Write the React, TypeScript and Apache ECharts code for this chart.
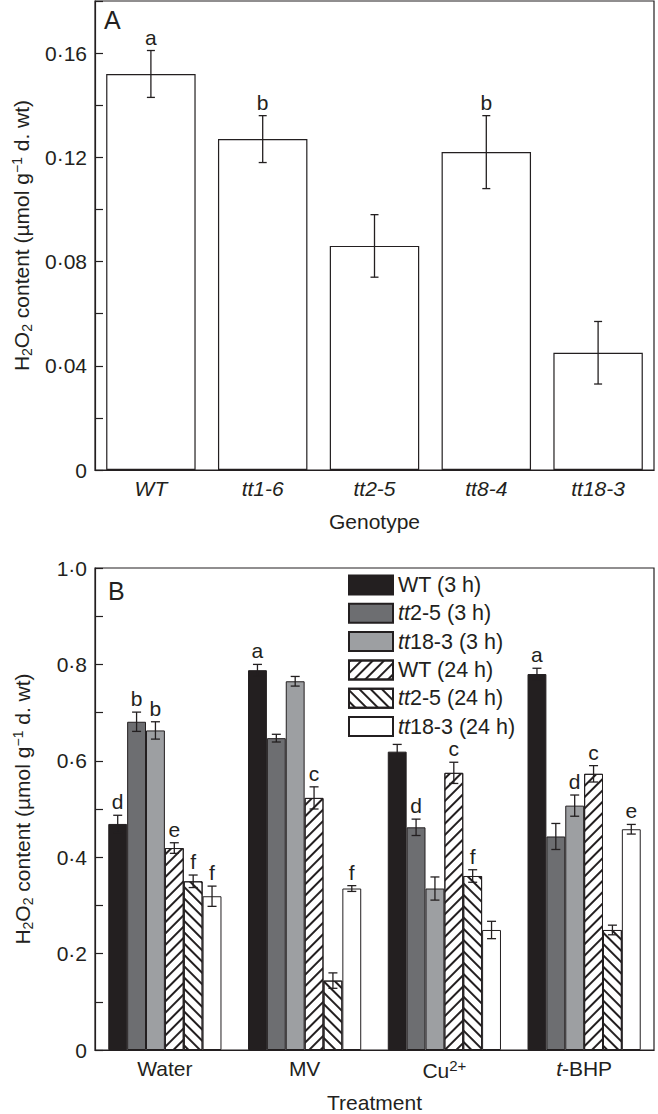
import React, { useEffect, useRef } from 'react';
import * as echarts from 'echarts';

// ---------- Panel A data ----------
const genotypes = ['WT', 'tt1-6', 'tt2-5', 'tt8-4', 'tt18-3'];
const genotypeValues = [0.152, 0.127, 0.086, 0.122, 0.045];
const genotypeErrors = [0.009, 0.009, 0.012, 0.014, 0.012];
const genotypeLetters = ['a', 'b', '', 'b', ''];

// ---------- Panel B data ----------
const treatments = ['Water', 'MV', 'Cu2+', 't-BHP'];
const seriesNames = ['WT (3 h)', 'tt2-5 (3 h)', 'tt18-3 (3 h)', 'WT (24 h)', 'tt2-5 (24 h)', 'tt18-3 (24 h)'];
const wt3h = [0.469, 0.788, 0.619, 0.780];
const tt25_3h = [0.681, 0.647, 0.462, 0.443];
const tt183_3h = [0.663, 0.765, 0.335, 0.507];
const wt24h = [0.419, 0.523, 0.575, 0.573];
const tt25_24h = [0.350, 0.144, 0.361, 0.249];
const tt183_24h = [0.319, 0.335, 0.249, 0.458];
const wt3hErr = [0.018, 0.012, 0.015, 0.012];
const tt25_3hErr = [0.020, 0.008, 0.017, 0.027];
const tt183_3hErr = [0.018, 0.010, 0.024, 0.022];
const wt24hErr = [0.011, 0.023, 0.022, 0.017];
const tt25_24hErr = [0.013, 0.016, 0.013, 0.010];
const tt183_24hErr = [0.021, 0.006, 0.018, 0.010];
const wt3hLetters = ['d', 'a', '', 'a'];
const tt25_3hLetters = ['b', '', 'd', ''];
const tt183_3hLetters = ['b', '', '', 'd'];
const wt24hLetters = ['e', 'c', 'c', 'c'];
const tt25_24hLetters = ['f', '', 'f', ''];
const tt183_24hLetters = ['f', 'f', '', 'e'];

const bValues = [wt3h, tt25_3h, tt183_3h, wt24h, tt25_24h, tt183_24h];
const bErrors = [wt3hErr, tt25_3hErr, tt183_3hErr, wt24hErr, tt25_24hErr, tt183_24hErr];
const bLetters = [wt3hLetters, tt25_3hLetters, tt183_3hLetters, wt24hLetters, tt25_24hLetters, tt183_24hLetters];

const FONT = '"Liberation Sans", Arial, Helvetica, sans-serif';
const INK = '#231f20';
const FS = 21;
const B_GAP = 0.19;

const fills = ['#231f20', '#6d6e71', '#9d9fa2', '#ffffff', '#ffffff', '#ffffff'];
const hatch = (rot: number) => ({
  symbol: 'rect',
  symbolSize: 1,
  dashArrayX: [1, 0],
  dashArrayY: [1.1, 5.4],
  rotation: rot,
  color: INK,
});
const decals: any[] = [undefined, undefined, undefined, hatch(-Math.PI / 4), hatch(Math.PI / 4), undefined];

const txt = (extra: any = {}) => ({ fontSize: FS, fontFamily: FONT, color: INK, ...extra });

const yName = '{t|H}{sub|2}{t|O}{sub|2}{t| content (µmol g}{sup|−1}{t| d. wt)}';
const yNameStyle = {
  ...txt(),
  rich: {
    t: txt(),
    sub: txt({ fontSize: 14, padding: [11, 0, 0, 0] }),
    sup: txt({ fontSize: 14, padding: [0, 0, 10, 0] }),
  },
};

const tickFmt = (step: number, dec: number) => (v: number) => {
  if (Math.abs(v) < 1e-9) return '0';
  const r = Math.round(v / step);
  if (r % 2 !== 0) return '';
  return v.toFixed(dec).replace('.', '·');
};

function errSeries(
  values: number[], errors: number[], letters: string[], axis: number,
  groupCount: number, slot: number, gapRatio: number, cap: number
) {
  return {
    type: 'custom',
    xAxisIndex: axis,
    yAxisIndex: axis,
    z: 10,
    silent: true,
    data: values.map((v, k) => [k, v, errors[k]]),
    encode: { x: 0, y: 1 },
    renderItem: (params: any, api: any) => {
      const k = api.value(0);
      const v = api.value(1);
      const e = api.value(2);
      const base = api.coord([k, v]);
      const band = api.size([1, 0])[0];
      const group = band * (1 - gapRatio);
      const bw = group / groupCount;
      const x = base[0] - group / 2 + (slot + 0.5) * bw;
      const yt = api.coord([k, v + e])[1];
      const yb = api.coord([k, v - e])[1];
      const style = { stroke: INK, lineWidth: 1.3 };
      const children: any[] = [
        { type: 'line', shape: { x1: x, y1: yt, x2: x, y2: yb }, style },
        { type: 'line', shape: { x1: x - cap, y1: yt, x2: x + cap, y2: yt }, style },
        { type: 'line', shape: { x1: x - cap, y1: yb, x2: x + cap, y2: yb }, style },
      ];
      const letter = letters[params.dataIndex];
      if (letter) {
        children.push({
          type: 'text',
          x,
          y: yt - 3,
          style: { text: letter, fill: INK, fontSize: FS, fontFamily: FONT, align: 'center', verticalAlign: 'bottom' },
        });
      }
      return { type: 'group', children };
    },
  };
}

export default function App() {
  const ref = useRef<HTMLDivElement>(null);
  useEffect(() => {
    if (!ref.current) return;
    const chart = echarts.init(ref.current, undefined, { renderer: 'svg' });
    const option: any = {
      animation: false,
      backgroundColor: '#ffffff',
      textStyle: { fontFamily: FONT },
      graphic: [
        { type: 'text', left: 104, top: 7, style: { text: 'A', fontSize: 25, fontFamily: FONT, fill: INK } },
        { type: 'text', left: 108, top: 578, style: { text: 'B', fontSize: 25, fontFamily: FONT, fill: INK } },
      ],
      grid: [
        { left: 95, top: 1, width: 559, height: 469, show: true, borderColor: INK, borderWidth: 1.2, backgroundColor: 'transparent' },
        { left: 95, top: 568, width: 559, height: 485, show: true, borderColor: INK, borderWidth: 1.2, backgroundColor: 'transparent' },
      ],
      legend: {
        data: seriesNames,
        orient: 'vertical',
        left: 343,
        top: 569,
        itemWidth: 44,
        itemHeight: 19,
        itemGap: 6.3,
        icon: 'rect',
        selectedMode: false,
        formatter: (name: string) => (name.startsWith('tt') ? `{i|tt}{n|${name.slice(2)}}` : `{n|${name}}`),
        textStyle: {
          ...txt({ fontSize: 21.5, lineHeight: 22 }),
          rich: {
            i: txt({ fontSize: 21.5, lineHeight: 22, fontStyle: 'italic' }),
            n: txt({ fontSize: 21.5, lineHeight: 22 }),
          },
        },
      },
      xAxis: [
        {
          type: 'category',
          gridIndex: 0,
          data: genotypes,
          name: 'Genotype',
          nameLocation: 'middle',
          nameGap: 41,
          nameTextStyle: txt(),
          axisLine: { lineStyle: { color: INK, width: 1.2 } },
          axisTick: { show: false },
          axisLabel: { ...txt({ fontStyle: 'italic' }), margin: 8, interval: 0 },
        },
        {
          type: 'category',
          gridIndex: 1,
          data: treatments,
          name: 'Treatment',
          nameLocation: 'middle',
          nameGap: 42,
          nameTextStyle: txt(),
          axisLine: { lineStyle: { color: INK, width: 1.2 } },
          axisTick: { show: false },
          axisLabel: {
            ...txt(),
            margin: 8,
            interval: 0,
            formatter: (v: string) => {
              if (v === 'Cu2+') return '{n|Cu}{sup|2+}';
              if (v === 't-BHP') return '{i|t}{n|-BHP}';
              return `{n|${v}}`;
            },
            rich: {
              n: txt(),
              i: txt({ fontStyle: 'italic' }),
              sup: txt({ fontSize: 15, padding: [0, 0, 10, 0] }),
            },
          },
        },
      ],
      yAxis: [
        {
          type: 'value',
          gridIndex: 0,
          min: 0,
          max: 0.18,
          interval: 0.02,
          name: yName,
          nameLocation: 'middle',
          nameGap: 60,
          nameTextStyle: yNameStyle,
          axisLine: { show: true, lineStyle: { color: INK, width: 1.2 } },
          axisTick: { show: true, inside: true, length: 8, lineStyle: { color: INK, width: 1.2 } },
          splitLine: { show: false },
          axisLabel: { ...txt(), margin: 8, formatter: tickFmt(0.02, 2) },
        },
        {
          type: 'value',
          gridIndex: 1,
          min: 0,
          max: 1.0,
          interval: 0.1,
          name: yName,
          nameLocation: 'middle',
          nameGap: 60,
          nameTextStyle: yNameStyle,
          axisLine: { show: true, lineStyle: { color: INK, width: 1.2 } },
          axisTick: { show: true, inside: true, length: 8, lineStyle: { color: INK, width: 1.2 } },
          splitLine: { show: false },
          axisLabel: { ...txt(), margin: 8, formatter: tickFmt(0.1, 1) },
        },
      ],
      series: [
        {
          type: 'bar',
          name: 'Genotype A',
          xAxisIndex: 0,
          yAxisIndex: 0,
          data: genotypeValues,
          barCategoryGap: '20%',
          itemStyle: { color: '#ffffff', borderColor: INK, borderWidth: 1.2 },
        },
        errSeries(genotypeValues, genotypeErrors, genotypeLetters, 0, 1, 0, 0.2, 4),
        ...seriesNames.map((name, i) => ({
          type: 'bar',
          name,
          xAxisIndex: 1,
          yAxisIndex: 1,
          data: bValues[i],
          barGap: '0%',
          barCategoryGap: `${B_GAP * 100}%`,
          itemStyle: { color: fills[i], borderColor: INK, borderWidth: 1, decal: decals[i] },
        })),
        ...seriesNames.map((_, i) => errSeries(bValues[i], bErrors[i], bLetters[i], 1, 6, i, B_GAP, 4.5)),
      ],
    };
    chart.setOption(option);
    return () => chart.dispose();
  }, []);
  return (
    <div
      ref={ref}
      style={{ position: 'absolute', left: 0, top: 0, width: 658, height: 1114, background: '#fff' }}
    />
  );
}
